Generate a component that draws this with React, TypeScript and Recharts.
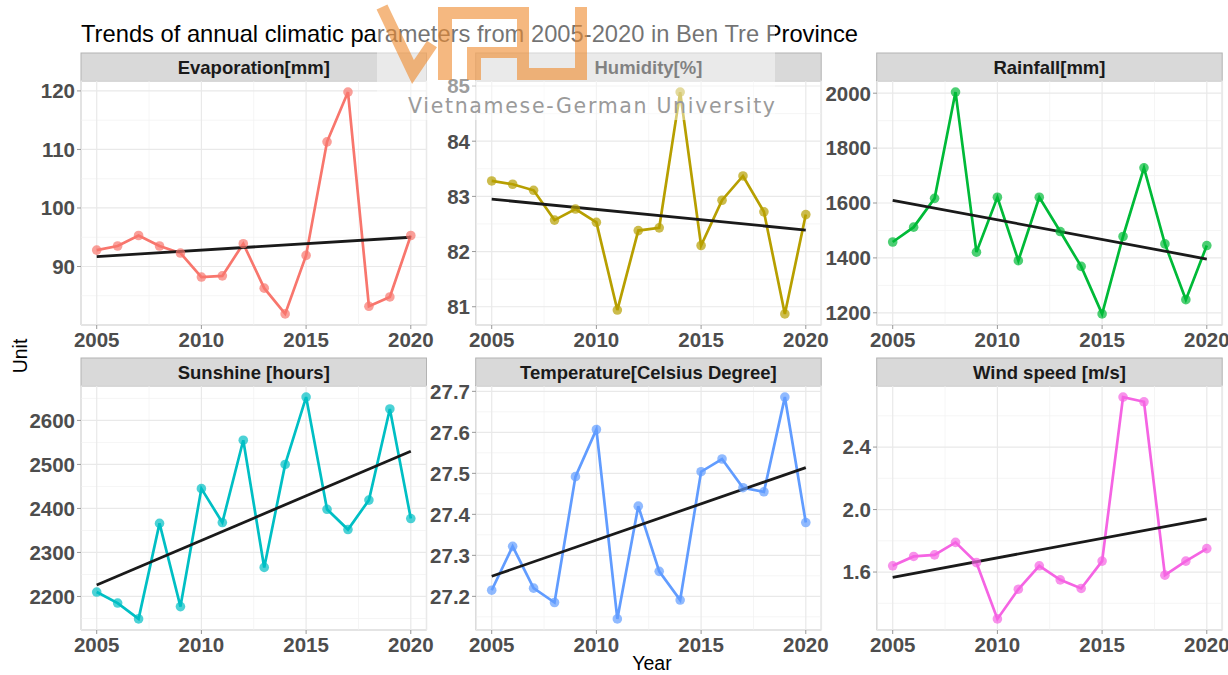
import React from 'react';
import { LineChart, Line, XAxis, YAxis, CartesianGrid } from 'recharts';

// ---------- data ----------
const years = [2005, 2006, 2007, 2008, 2009, 2010, 2011, 2012, 2013, 2014, 2015, 2016, 2017, 2018, 2019, 2020];
const evaporation = [92.8, 93.5, 95.3, 93.5, 92.3, 88.2, 88.4, 93.9, 86.3, 81.9, 91.9, 111.3, 119.8, 83.2, 84.8, 95.3];
const humidity = [83.28, 83.22, 83.11, 82.57, 82.77, 82.53, 80.94, 82.38, 82.43, 84.89, 82.11, 82.93, 83.37, 82.72, 80.87, 82.67];
const rainfall = [1458, 1512, 1617, 2004, 1421, 1621, 1390, 1621, 1496, 1369, 1196, 1478, 1728, 1451, 1248, 1445];
const sunshine = [2210, 2185, 2149, 2366, 2177, 2445, 2368, 2555, 2266, 2500, 2653, 2398, 2352, 2419, 2626, 2377];
const temperature = [27.215, 27.322, 27.22, 27.185, 27.492, 27.607, 27.145, 27.42, 27.261, 27.191, 27.504, 27.535, 27.465, 27.455, 27.686, 27.38];
const windSpeed = [1.64, 1.70, 1.71, 1.79, 1.66, 1.30, 1.49, 1.64, 1.55, 1.495, 1.67, 2.72, 2.69, 1.58, 1.67, 1.75];

// linear trend endpoints (2005, 2020)
const evaporationTrend = [91.7, 95.0];
const humidityTrend = [82.95, 82.39];
const rainfallTrend = [1610, 1396];
const sunshineTrend = [2226, 2530];
const temperatureTrend = [27.249, 27.514];
const windSpeedTrend = [1.566, 1.941];

// tick labels
const yearTicks = [2005, 2010, 2015, 2020];
const yearMinorTicks = [2007.5, 2012.5, 2017.5];
const evaporationTicks = [90, 100, 110, 120];
const evaporationMinor = [85, 95, 105, 115];
const humidityTicks = [81, 82, 83, 84, 85];
const humidityMinor = [81.5, 82.5, 83.5, 84.5];
const rainfallTicks = [1200, 1400, 1600, 1800, 2000];
const rainfallMinor = [1300, 1500, 1700, 1900];
const sunshineTicks = [2200, 2300, 2400, 2500, 2600];
const sunshineMinor = [2150, 2250, 2350, 2450, 2550, 2650];
const temperatureTicks = [27.2, 27.3, 27.4, 27.5, 27.6, 27.7];
const temperatureMinor = [27.15, 27.25, 27.35, 27.45, 27.55, 27.65];
const windSpeedTicks = [1.6, 2.0, 2.4];
const windSpeedMinor = [1.4, 1.8, 2.2, 2.6];

const panelTitles = ['Evaporation[mm]', 'Humidity[%]', 'Rainfall[mm]', 'Sunshine [hours]', 'Temperature[Celsius Degree]', 'Wind speed [m/s]'];

// ---------- layout ----------
const FONT = '"Liberation Sans", Arial, Helvetica, sans-serif';
const COLS = [81, 475.7, 876.7];
const ROWS = [81, 386];
const PW = 345.5;
const PH = 244;
const STRIP_H = 28;
const YW = 60;
const MT = 5;
const MR = 8;
const XH = 34;

const xDomain = [years[0] - 0.05 * (years[years.length - 1] - years[0]), years[years.length - 1] + 0.05 * (years[years.length - 1] - years[0])];

function expand(vals: number[]): [number, number] {
  const lo = Math.min(...vals);
  const hi = Math.max(...vals);
  const r = hi - lo;
  return [lo - 0.05 * r, hi + 0.05 * r];
}

const panels = [
  { title: panelTitles[0], values: evaporation, trend: evaporationTrend, color: '#F8766D', ticks: evaporationTicks, minor: evaporationMinor, dec: 0, col: 0, row: 0 },
  { title: panelTitles[1], values: humidity, trend: humidityTrend, color: '#B79F00', ticks: humidityTicks, minor: humidityMinor, dec: 0, col: 1, row: 0 },
  { title: panelTitles[2], values: rainfall, trend: rainfallTrend, color: '#00BA38', ticks: rainfallTicks, minor: rainfallMinor, dec: 0, col: 2, row: 0 },
  { title: panelTitles[3], values: sunshine, trend: sunshineTrend, color: '#00BFC4', ticks: sunshineTicks, minor: sunshineMinor, dec: 0, col: 0, row: 1 },
  { title: panelTitles[4], values: temperature, trend: temperatureTrend, color: '#619CFF', ticks: temperatureTicks, minor: temperatureMinor, dec: 1, col: 1, row: 1 },
  { title: panelTitles[5], values: windSpeed, trend: windSpeedTrend, color: '#F564E3', ticks: windSpeedTicks, minor: windSpeedMinor, dec: 1, col: 2, row: 1 },
];

const XTick = (props: any) => {
  const { x, y, payload } = props;
  return (
    <text x={x} y={y + 16} textAnchor="middle" fontFamily={FONT} fontWeight="bold" fontSize={20.5} fill="#4d4d4d">
      {payload.value}
    </text>
  );
};

const makeYTick = (dec: number) => (props: any) => {
  const { x, y, payload } = props;
  return (
    <text x={x} y={y} dy="0.36em" textAnchor="end" fontFamily={FONT} fontWeight="bold" fontSize={20.5} fill="#4d4d4d">
      {Number(payload.value).toFixed(dec)}
    </text>
  );
};

function Panel({ p }: { p: (typeof panels)[number] }) {
  const left = COLS[p.col];
  const top = ROWS[p.row];
  const dom = expand(p.values);
  const data = years.map((yr, i) => ({
    year: yr,
    value: p.values[i],
    trend: i === 0 ? p.trend[0] : i === years.length - 1 ? p.trend[1] : null,
  }));
  return (
    <div style={{ position: 'absolute', left: left - YW, top: top - MT }}>
      <LineChart width={YW + PW + MR} height={MT + PH + XH} data={data} margin={{ top: MT, right: MR, bottom: 0, left: 0 }}>
        <XAxis xAxisId="minor" dataKey="year" type="number" domain={xDomain} ticks={yearMinorTicks} hide allowDataOverflow />
        <YAxis yAxisId="minor" type="number" domain={dom} ticks={p.minor} hide allowDataOverflow />
        <CartesianGrid xAxisId="minor" yAxisId="minor" stroke="#f3f3f3" strokeWidth={0.8} />
        <CartesianGrid stroke="#e9e9e9" strokeWidth={1.2} />
        <XAxis
          dataKey="year"
          type="number"
          domain={xDomain}
          ticks={yearTicks}
          interval={0}
          height={XH}
          tickSize={4}
          tickMargin={2}
          axisLine={false}
          tickLine={{ stroke: '#999999' }}
          tick={XTick}
          allowDataOverflow
        />
        <YAxis
          type="number"
          domain={dom}
          ticks={p.ticks}
          interval={0}
          width={YW}
          tickSize={4}
          tickMargin={2}
          axisLine={false}
          tickLine={{ stroke: '#999999' }}
          tick={makeYTick(p.dec)}
          allowDataOverflow
        />
        <Line
          dataKey="value"
          type="linear"
          stroke={p.color}
          strokeWidth={2.7}
          dot={{ r: 4.8, fill: p.color, fillOpacity: 0.7, stroke: 'none' }}
          activeDot={false}
          isAnimationActive={false}
        />
        <Line
          dataKey="trend"
          type="linear"
          connectNulls
          stroke="#1a1a1a"
          strokeWidth={2.8}
          dot={false}
          activeDot={false}
          isAnimationActive={false}
        />
      </LineChart>
    </div>
  );
}

export default function App() {
  return (
    <div style={{ position: 'absolute', left: 0, top: 0, width: 1228, height: 675, background: '#ffffff', overflow: 'hidden' }}>
      {/* background layer: title, strips, borders, axis titles */}
      <svg width={1228} height={675} style={{ position: 'absolute', left: 0, top: 0 }}>
        <text x={81} y={41.5} fontFamily={FONT} fontSize={24} fill="#000000" textLength={777} lengthAdjust="spacingAndGlyphs">
          Trends of annual climatic parameters from 2005-2020 in Ben Tre Province
        </text>
        {panels.map((p, i) => {
          const l = COLS[p.col];
          const t = ROWS[p.row];
          return (
            <g key={i}>
              <rect x={l} y={t - STRIP_H} width={PW} height={STRIP_H} fill="#d9d9d9" stroke="#b3b3b3" strokeWidth={1} />
              <line x1={l} x2={l + PW} y1={t} y2={t} stroke="#999999" strokeWidth={1.5} />
              <text x={l + PW / 2} y={t - 7.5} textAnchor="middle" fontFamily={FONT} fontWeight="bold" fontSize={18.5} fill="#1a1a1a">
                {p.title}
              </text>
              <line x1={l} x2={l} y1={t} y2={t + PH} stroke="#a3a3a3" strokeWidth={1.2} />
              <line x1={l} x2={l + PW} y1={t + PH} y2={t + PH} stroke="#a3a3a3" strokeWidth={1.2} />
              <line x1={l + PW} x2={l + PW} y1={t} y2={t + PH} stroke="#d2d2d2" strokeWidth={1.2} />
            </g>
          );
        })}
        <text x={0} y={0} transform="translate(27,356) rotate(-90)" textAnchor="middle" fontFamily={FONT} fontSize={19.5} fill="#000000">
          Unit
        </text>
        <text x={652} y={670} textAnchor="middle" fontFamily={FONT} fontSize={19.5} fill="#000000">
          Year
        </text>
      </svg>

      {panels.map((p, i) => (
        <Panel key={i} p={p} />
      ))}

      {/* watermark overlay */}
      <svg width={1228} height={675} style={{ position: 'absolute', left: 0, top: 0, pointerEvents: 'none' }}>
        <rect x={377} y={0} width={398} height={120} fill="#ffffff" opacity={0.45} />
        <g opacity={0.6} fill="#ef8a2c">
          <polyline points="382,7 413,72 432,44" fill="none" stroke="#ef8a2c" strokeWidth={12} />
          <rect x={438} y={7} width={14} height={73} />
          <rect x={438} y={7} width={85} height={12} />
          <rect x={467} y={47} width={14} height={33} />
          <rect x={467} y={47} width={50} height={11} />
          <rect x={517} y={7} width={12} height={73} />
          <rect x={517} y={68} width={70} height={12} />
          <rect x={575} y={7} width={12} height={73} />
        </g>
        <text x={408} y={113} fontFamily='"DejaVu Sans", sans-serif' fontSize={20.5} fill="#9a9a9a" textLength={367} lengthAdjust="spacing">
          Vietnamese-German University
        </text>
      </svg>
    </div>
  );
}
